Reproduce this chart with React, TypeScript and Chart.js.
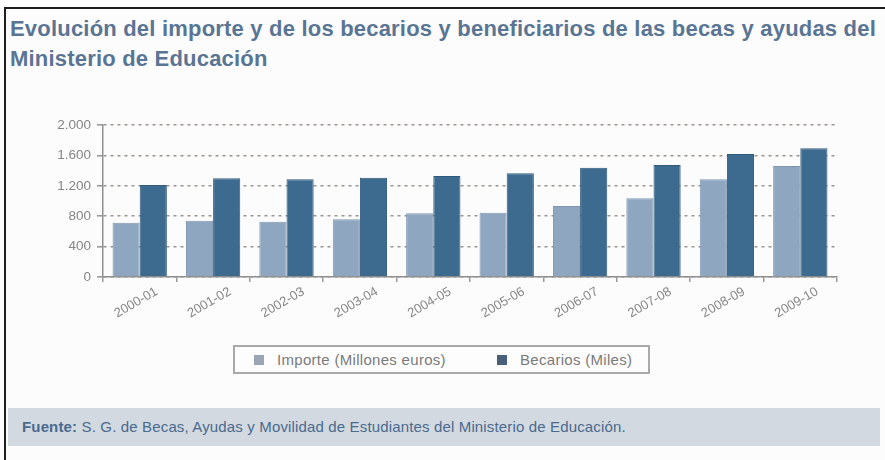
import React, { useEffect, useRef } from "react";
import { Chart, registerables } from "chart.js";

Chart.register(...registerables);

const TITLE_LINES = [
  "Evolución del importe y de los becarios y beneficiarios de las becas y ayudas del",
  "Ministerio de Educación",
];
const CATEGORIES = [
  "2000-01", "2001-02", "2002-03", "2003-04", "2004-05",
  "2005-06", "2006-07", "2007-08", "2008-09", "2009-10",
];
const IMPORTE = [715, 741, 728, 759, 838, 846, 934, 1035, 1285, 1461];
const BECARIOS = [1211, 1298, 1285, 1307, 1329, 1364, 1438, 1474, 1618, 1693];
const SERIES_LABELS = ["Importe (Millones euros)", "Becarios (Miles)"];
const SERIES_COLORS = ["#8fa6c0", "#3d6a8f"];
const SERIES_BORDERS = ["#7f95ae", "#30597a"];
const LEGEND_SWATCHES = ["#9aa6b6", "#4a607a"];
const Y_MAX = 2000;
const Y_STEP = 400;
const SOURCE_BOLD = "Fuente:";
const SOURCE_TEXT = " S. G. de Becas, Ayudas y Movilidad de Estudiantes del Ministerio de Educación.";

const fmt = (v: number) => String(v).replace(/\B(?=(\d{3})+(?!\d))/g, ".");
const FONT = "Arial, 'Liberation Sans', sans-serif";

export default function App() {
  const ref = useRef<HTMLCanvasElement | null>(null);

  useEffect(() => {
    if (!ref.current) return;
    const chart = new Chart(ref.current, {
      type: "bar",
      data: {
        labels: CATEGORIES,
        datasets: [IMPORTE, BECARIOS].map((d, i) => ({
          label: SERIES_LABELS[i],
          data: d,
          backgroundColor: SERIES_COLORS[i],
          borderColor: SERIES_BORDERS[i],
          borderWidth: 1,
          categoryPercentage: 0.74,
          barPercentage: 1.0,
        })),
      },
      options: {
        responsive: false,
        animation: false,
        layout: { padding: { left: 0, right: 48, top: 15, bottom: 0 } },
        plugins: { legend: { display: false }, tooltip: { enabled: false }, title: { display: false } },
        scales: {
          x: {
            offset: true,
            grid: {
              offset: true,
              drawOnChartArea: false,
              drawTicks: true,
              tickLength: 5,
              color: "#9a9a9a",
              lineWidth: 1.5,
            },
            border: { display: true, color: "#8f8f8f", width: 1.5 },
            ticks: {
              minRotation: 30,
              maxRotation: 30,
              padding: 2,
              labelOffset: 17,
              color: "#858585",
              font: { family: FONT, size: 13 },
            },
            afterFit: (s: any) => {
              s.height = 63;
            },
          },
          y: {
            min: 0,
            max: Y_MAX,
            grid: {
              color: "#9a948f",
              lineWidth: 1.6,
              tickLength: 6,
              tickColor: "#9a9a9a",
            },
            border: { display: true, color: "#8f8f8f", width: 1.5, dash: [3, 4] },
            ticks: {
              stepSize: Y_STEP,
              padding: 6,
              color: "#858585",
              font: { family: FONT, size: 13.5 },
              callback: (v: any) => fmt(Number(v)),
            },
            afterFit: (s: any) => {
              s.width = 103;
            },
          },
        },
      } as any,
    });
    return () => chart.destroy();
  }, []);

  return (
    <div
      style={{
        position: "absolute",
        left: 0,
        top: 0,
        width: 885,
        height: 460,
        background: "#fcfcfc",
        overflow: "hidden",
        fontFamily: FONT,
      }}
    >
      <div style={{ position: "absolute", left: 4, top: 7, width: 881, height: 2, background: "#1e1e1e" }} />
      <div style={{ position: "absolute", left: 4, top: 7, width: 2, height: 453, background: "#1e1e1e" }} />
      <div
        style={{
          position: "absolute",
          left: 10,
          top: 14,
          fontSize: 22,
          fontWeight: "bold",
          lineHeight: "30px",
          color: "#5a7594",
          whiteSpace: "nowrap",
          letterSpacing: 0.2,
        }}
      >
        {TITLE_LINES.map((l, i) => (
          <div key={i}>{l}</div>
        ))}
      </div>
      <canvas
        ref={ref}
        width={885}
        height={230}
        style={{ position: "absolute", left: 0, top: 110, width: 885, height: 230 }}
      />
      <div
        style={{
          position: "absolute",
          left: 233,
          top: 345,
          width: 413,
          height: 25,
          border: "2px solid #a9a9a9",
          background: "#fdfdfd",
        }}
      >
        {SERIES_LABELS.map((l, i) => (
          <div
            key={i}
            style={{
              position: "absolute",
              left: i === 0 ? 19 : 262,
              top: 3,
              height: 19,
              display: "flex",
              alignItems: "center",
              fontSize: 15,
              letterSpacing: 0.3,
              color: "#7a7a7a",
              whiteSpace: "nowrap",
            }}
          >
            <span
              style={{
                display: "inline-block",
                width: 10,
                height: 10,
                background: LEGEND_SWATCHES[i],
                marginRight: 13,
              }}
            />
            {l}
          </div>
        ))}
      </div>
      <div
        style={{
          position: "absolute",
          left: 8,
          top: 408,
          width: 872,
          height: 38,
          background: "#d2d9e0",
        }}
      >
        <div
          style={{
            position: "absolute",
            left: 14,
            top: 10,
            fontSize: 15,
            letterSpacing: 0.15,
            color: "#4a6a8e",
            whiteSpace: "nowrap",
          }}
        >
          <b>{SOURCE_BOLD}</b>
          {SOURCE_TEXT}
        </div>
      </div>
    </div>
  );
}
